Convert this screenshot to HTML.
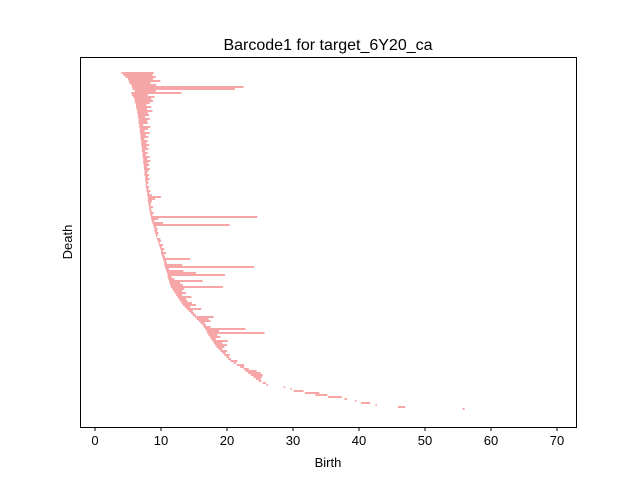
<!DOCTYPE html>
<html><head><meta charset="utf-8"><style>
body{margin:0;background:#fff;font-family:"Liberation Sans","DejaVu Sans",sans-serif;}
</style></head><body>
<svg id="chart" width="640" height="480" xmlns="http://www.w3.org/2000/svg" style="display:block">
<rect width="640" height="480" fill="#fff"/>
<text x="328" y="50" font-size="16" text-anchor="middle" fill="#000">Barcode1 for target_6Y20_ca</text>
<g id="bars"></g>
<rect x="80.5" y="57.5" width="496" height="370" fill="none" stroke="#000" stroke-width="1"/>
<g id="xticks"></g>
<text x="328" y="467" font-size="13" text-anchor="middle">Birth</text>
<text x="0" y="0" font-size="13" text-anchor="middle" transform="translate(72,242) rotate(-90)">Death</text>
</svg>
<script>
const births=[4.0,4.3,4.6,5.0,5.1,5.2,5.5,5.6,5.7,6.0,5.5,5.6,5.8,6.0,6.0,6.1,6.2,6.2,6.3,6.4,6.4,6.5,6.5,6.6,6.6,6.6,6.7,6.7,6.8,6.8,6.8,6.9,6.9,6.9,7.0,7.0,7.0,7.1,7.1,7.1,7.2,7.2,7.2,7.3,7.3,7.3,7.4,7.4,7.4,7.5,7.5,7.5,7.6,7.6,7.6,7.7,7.7,7.7,7.8,7.8,7.9,7.9,8.0,8.0,8.0,8.1,8.1,8.2,8.2,8.3,8.3,8.4,8.5,8.5,8.6,8.7,8.8,8.9,9.0,9.0,9.1,9.2,9.3,9.4,9.5,9.6,9.7,9.8,9.9,10.0,10.0,10.1,10.2,10.3,10.4,10.5,10.5,10.6,10.7,10.8,10.9,11.0,11.0,11.1,11.2,11.3,11.4,11.5,11.7,11.9,12.1,12.3,12.5,12.7,12.9,13.1,13.3,13.6,13.9,14.2,14.5,14.8,15.1,15.4,15.7,16.0,16.3,16.5,16.7,16.9,17.0,17.2,17.4,17.6,17.8,18.0,18.2,18.4,18.7,19.0,19.3,19.6,19.9,20.2,20.5,21.0,21.5,22.0,22.5,22.8,23.2,23.6,24.0,24.4,24.8,25.4,26.0,28.6,29.6,30.1,31.8,33.4,35.3,37.8,39.4,40.3,42.5,45.9,55.7];
const deaths=[8.9,8.7,9.2,8.8,9.9,8.4,9.3,22.5,21.2,9.2,13.1,8.0,9.0,8.5,8.8,8.3,7.8,8.5,7.9,8.7,8.0,8.2,7.6,8.3,7.9,8.0,7.3,8.4,8.0,7.5,8.3,7.7,8.1,7.5,8.0,7.8,8.2,7.8,8.1,7.6,8.0,7.7,8.3,7.9,8.4,8.0,8.2,7.9,8.3,8.1,7.9,8.2,8.0,8.3,8.0,8.1,7.9,8.2,8.1,8.4,8.2,8.6,10.0,9.1,8.6,8.5,8.4,8.8,8.5,8.6,8.9,8.7,24.6,9.6,9.0,10.3,20.4,9.3,9.5,9.4,9.6,9.5,9.4,9.9,10.0,9.8,10.3,10.1,10.5,10.3,10.8,10.5,10.6,14.4,10.8,10.9,13.2,24.1,11.2,13.4,15.3,19.7,11.6,12.0,16.3,12.9,13.3,19.4,13.5,13.2,13.8,13.2,14.6,13.8,14.0,14.7,15.3,14.4,16.1,14.8,15.0,15.3,18.0,17.2,17.5,16.6,16.8,17.5,22.8,18.8,25.7,18.5,19.0,18.3,20.1,19.3,20.0,19.6,19.3,20.0,19.8,20.4,20.3,20.6,21.6,21.4,22.6,22.6,23.3,24.5,25.1,25.4,25.3,25.1,25.2,25.9,26.2,28.8,29.8,31.6,34.0,35.2,37.4,38.2,39.6,41.7,42.7,47.0,56.0];
const xTicks=[0,10,20,30,40,50,60,70];
const NS="http://www.w3.org/2000/svg";
const x=v=>95+v*6.6;
const y=i=>73+i*(336/(births.length-1));
const bars=document.getElementById('bars');
births.forEach((b,i)=>{
  const r=document.createElementNS(NS,'rect');
  
  
  r.setAttribute('x',x(b));
  r.setAttribute('y',y(i)-0.6);
  r.setAttribute('width',Math.max(0.8,x(deaths[i])-x(b)));
  r.setAttribute('height',1.2);
  r.setAttribute('fill','#f06a6a');
  bars.appendChild(r);
});
const xt=document.getElementById('xticks');
xTicks.forEach(t=>{
  const l=document.createElementNS(NS,'line');
  
  
  l.setAttribute('x1',x(t));l.setAttribute('x2',x(t));
  l.setAttribute('y1',427.5);l.setAttribute('y2',431);
  l.setAttribute('stroke','#000');
  xt.appendChild(l);
  const tx=document.createElementNS(NS,'text');
  
  
  tx.setAttribute('x',x(t));tx.setAttribute('y',445);
  tx.setAttribute('font-size','13');tx.setAttribute('text-anchor','middle');
  tx.textContent=t;
  xt.appendChild(tx);
});
</script>
</body></html>
